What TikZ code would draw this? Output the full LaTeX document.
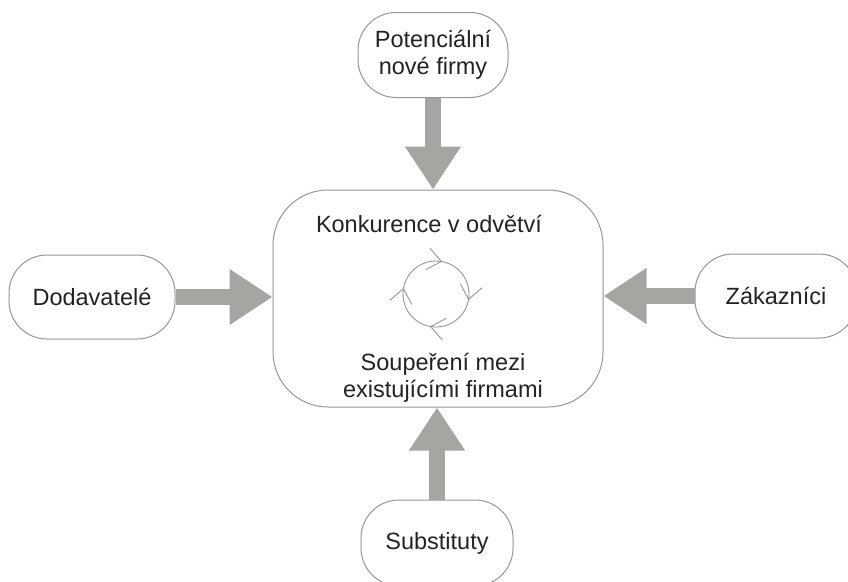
\documentclass[tikz,border=0pt]{standalone}
\usepackage{fontspec}
\setmainfont{Liberation Sans}
\usepackage{tikz}
\usetikzlibrary{positioning,arrows.meta,decorations.markings}
\definecolor{boxline}{RGB}{150,150,150}
\definecolor{arrowfill}{RGB}{165,165,162}
\definecolor{textgray}{RGB}{35,35,35}
\tikzset{
  actor/.style={draw=boxline, line width=1pt, rounded corners=38pt, fill=white,
    text=textgray, font=\fontsize{23.5}{27}\selectfont, align=center, inner sep=0pt},
  label/.style={text=textgray, font=\fontsize{23.5}{27}\selectfont, align=center, inner sep=0pt},
  force/.style={draw=arrowfill, line width=16pt, -{Triangle[length=43pt,width=53pt]}},
  cyclebarb/.tip={Straight Barb[length=14pt,width=22pt,line width=0.9pt]},
  cyclearrows/.style={draw=boxline, line width=0.9pt, postaction={decorate},
    decoration={markings,
      mark=at position 0.03 with {\arrow{cyclebarb}},
      mark=at position 0.28 with {\arrow{cyclebarb}},
      mark=at position 0.53 with {\arrow{cyclebarb}},
      mark=at position 0.78 with {\arrow{cyclebarb}}}},
}
\begin{document}
\begin{tikzpicture}[x=1pt,y=-1pt]
    \useasboundingbox (0,0) rectangle (848,581);
    % industry
    \node[actor, minimum width=330pt, minimum height=217pt, rounded corners=55pt] (konk) at (438,298.5) {};
    \node[label] (title) at (429,224) {Konkurence v odvětví};
    \node[label] (rival) at (443,378) {Soupeření mezi\\existujícími firmami};
    \coordinate (cyc) at (436,294);
    \draw[cyclearrows] (cyc) circle[radius=33];
    % forces
    \node[actor, minimum width=150pt, minimum height=85pt] (pot) at (433,55) {Potenciální\\nové firmy};
    \node[actor, minimum width=166pt, minimum height=84pt] (dod) at (92,297) {Dodavatelé};
    \node[actor, minimum width=162pt, minimum height=84pt] (zak) at (776,296) {Zákazníci};
    \node[actor, minimum width=152pt, minimum height=86pt] (sub) at (437,543) {Substituty};
    % arrows
    \draw[force] (pot.south) -- (pot.south |- konk.north);
    \draw[force] (dod.east) -- (dod.east -| konk.west);
    \draw[force] (zak.west) -- (zak.west -| konk.east);
    \draw[force] (sub.north) -- (sub.north |- konk.south);
\end{tikzpicture}
\end{document}
